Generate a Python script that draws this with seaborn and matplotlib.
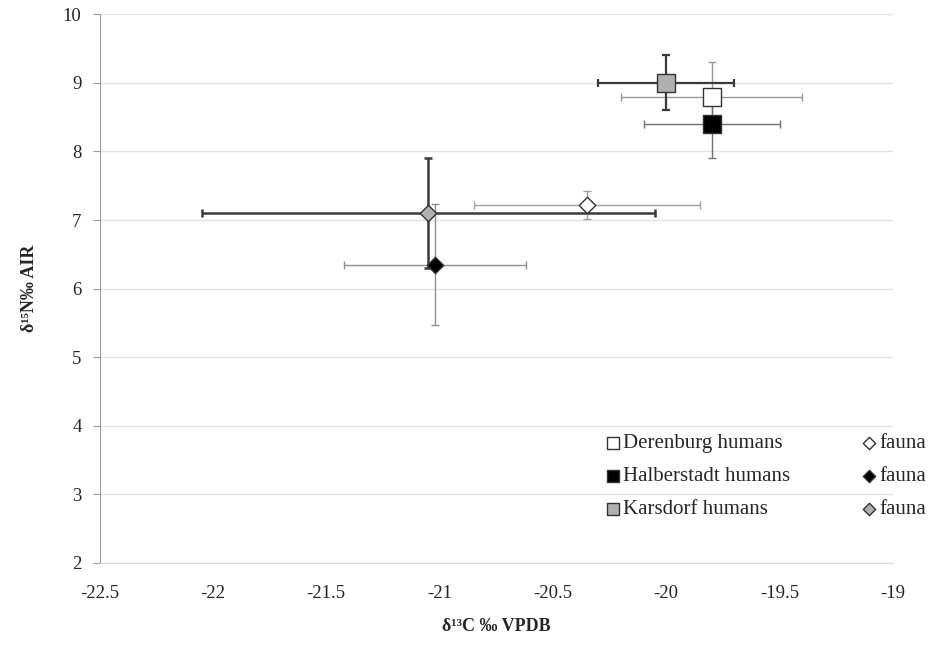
import seaborn as sns
import matplotlib.pyplot as plt
import pandas as pd

# group means and standard deviations
groups = ["Derenburg humans", "Halberstadt humans", "Karsdorf humans",
          "Derenburg fauna", "Halberstadt fauna", "Karsdorf fauna"]
d13c = [-19.8, -19.8, -20.0, -20.35, -21.02, -21.05]
d15n = [8.8, 8.4, 9.0, 7.22, 6.35, 7.1]
d13c_sd = [0.4, 0.3, 0.3, 0.5, 0.4, 1.0]
d15n_sd = [0.5, 0.5, 0.4, 0.2, 0.88, 0.8]
legend_labels = ["Derenburg humans", "Halberstadt humans", "Karsdorf humans",
                 "fauna", "fauna", "fauna"]

df = pd.DataFrame({"group": groups, "d13C": d13c, "d15N": d15n,
                   "sdC": d13c_sd, "sdN": d15n_sd, "label": legend_labels})

sns.set_style("white")
plt.rcParams['font.family'] = ['Liberation Serif', 'DejaVu Serif']

fig = plt.figure(figsize=(9.31, 6.46), dpi=100)
ax = fig.add_axes([0.107, 0.1285, 0.852, 0.8495])

faces = ["white", "black", "#b0b0b0", "white", "black", "#b0b0b0"]
markers = ["s", "s", "s", "D", "D", "D"]
sizes = [150, 150, 150, 70, 70, 70]
bar_col = ["#9a9a9a", "#707070", "#3a3a3a", "#a0a0a0", "#909090", "#3a3a3a"]
bar_lw = [1.0, 1.0, 1.6, 1.0, 1.0, 1.8]

for i, row in df.iterrows():
    ax.errorbar(row["d13C"], row["d15N"], xerr=row["sdC"], yerr=row["sdN"],
                fmt="none", ecolor=bar_col[i], elinewidth=bar_lw[i],
                capsize=3, capthick=bar_lw[i], zorder=2)

for i, row in df.iterrows():
    sns.scatterplot(x=[row["d13C"]], y=[row["d15N"]], ax=ax, marker=markers[i],
                    s=sizes[i], color=faces[i], edgecolor="#333333",
                    linewidth=1.0, zorder=3, label=row["label"])

ax.set_xlim(-22.5, -19)
ax.set_ylim(2, 10)
ax.set_xticks([-22.5, -22, -21.5, -21, -20.5, -20, -19.5, -19])
ax.set_xticklabels(["-22.5", "-22", "-21.5", "-21", "-20.5", "-20", "-19.5", "-19"])
ax.set_yticks(range(2, 11))
ax.yaxis.grid(True, color="#e4e4e4", linewidth=1)
ax.xaxis.grid(False)
for s in ["top", "right"]:
    ax.spines[s].set_visible(False)
ax.spines["left"].set_color("#9a9a9a")
ax.spines["bottom"].set_color("#d8d8d8")
ax.tick_params(axis="y", left=True, length=5, color="#9a9a9a", labelsize=13.5, pad=8)
ax.tick_params(axis="x", bottom=False, labelsize=13.5, pad=12)

ax.set_xlabel("δ¹³C ‰ VPDB", fontsize=13, fontweight="bold", labelpad=12)
ax.set_ylabel("δ¹⁵N‰ AIR", fontsize=13, fontweight="bold", labelpad=18)

ax.legend(ncol=2, loc="upper left", bbox_to_anchor=(0.61, 0.27), frameon=False,
          fontsize=15, handletextpad=0.0, columnspacing=3.3, labelspacing=0.65,
          handlelength=1.0, markerscale=0.75)

plt.savefig("out.png", dpi=100)
